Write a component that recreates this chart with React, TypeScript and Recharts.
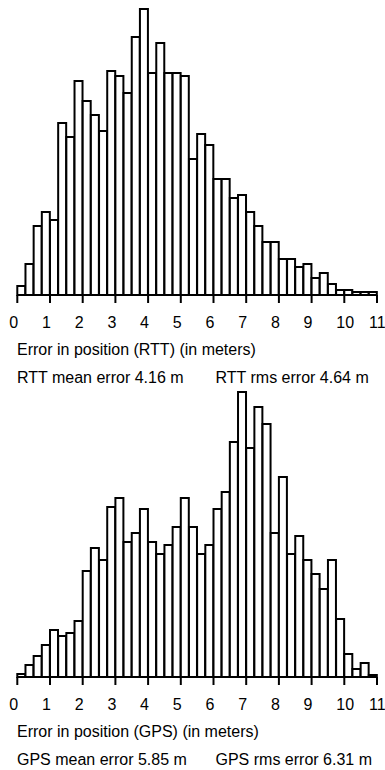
import { BarChart, Bar, XAxis, YAxis } from 'recharts';

const binWidth = 0.25;
const xTicks = [0, 1, 2, 3, 4, 5, 6, 7, 8, 9, 10, 11];

// counts per 0.25 m bin
const rttCounts = [
  9, 31, 69, 83, 75, 172, 158, 214, 194, 180, 164, 224, 219, 202, 258, 286, 222, 252, 222, 222, 219, 136,
  161, 150, 116, 116, 97, 100, 83, 69, 53, 53, 36, 36, 28, 31, 17, 22, 11, 5, 5, 3, 3, 3,
];
const gpsCounts = [
  3, 12, 21, 32, 47, 41, 44, 56, 106, 129, 117, 170, 179, 135, 144, 168, 135, 123, 132, 150, 179, 150,
  123, 132, 168, 185, 235, 285, 229, 270, 253, 144, 200, 123, 141, 117, 103, 88, 117, 58, 23, 8, 14, 2,
];

const rttLabels = ['Error in position (RTT) (in meters)', 'RTT mean error 4.16 m', 'RTT rms error 4.64 m'];
const gpsLabels = ['Error in position (GPS) (in meters)', 'GPS mean error 5.85 m', 'GPS rms error 6.31 m'];

const FONT = '"Liberation Sans", Arial, sans-serif';
const PANEL_OFFSET = 382;

const toRows = (counts: number[]) => counts.map((v, i) => ({ x: i * binWidth + binWidth / 2, v }));

function AxisTick({ x, y, payload }: any) {
  return (
    <text x={x - 8} y={y + 23} fontSize={16} fontFamily={FONT} fill="#000">
      {payload.value}
    </text>
  );
}

function Histogram({ counts }: { counts: number[] }) {
  return (
    <BarChart
      width={385}
      height={340}
      data={toRows(counts)}
      margin={{ top: 5, right: 8, left: 17.3, bottom: 0 }}
      barCategoryGap={0}
    >
      <XAxis
        type="number"
        dataKey="x"
        domain={[0, 11]}
        ticks={xTicks}
        interval={0}
        height={45}
        tickSize={8}
        axisLine={{ stroke: '#000', strokeWidth: 2 }}
        tickLine={{ stroke: '#000', strokeWidth: 2 }}
        tick={<AxisTick />}
      />
      <YAxis hide domain={[0, 290]} />
      <Bar dataKey="v" fill="#fff" stroke="#000" strokeWidth={2} isAnimationActive={false} />
    </BarChart>
  );
}

function Captions({ labels, top }: { labels: string[]; top: number }) {
  return (
    <g fontFamily={FONT} fontSize={16} fill="#000">
      <text x={17} y={top + 355}>{labels[0]}</text>
      <text x={17} y={top + 383}>{labels[1]}</text>
      <text x={215.5} y={top + 383}>{labels[2]}</text>
    </g>
  );
}

export default function App() {
  return (
    <div style={{ position: 'absolute', left: 0, top: 0, width: 385, height: 770, background: '#fff' }}>
      <div style={{ position: 'absolute', left: 0, top: 0 }}>
        <Histogram counts={rttCounts} />
      </div>
      <div style={{ position: 'absolute', left: 0, top: PANEL_OFFSET }}>
        <Histogram counts={gpsCounts} />
      </div>
      <svg width={385} height={770} style={{ position: 'absolute', left: 0, top: 0, pointerEvents: 'none' }}>
        <Captions labels={rttLabels} top={0} />
        <Captions labels={gpsLabels} top={PANEL_OFFSET} />
      </svg>
    </div>
  );
}
